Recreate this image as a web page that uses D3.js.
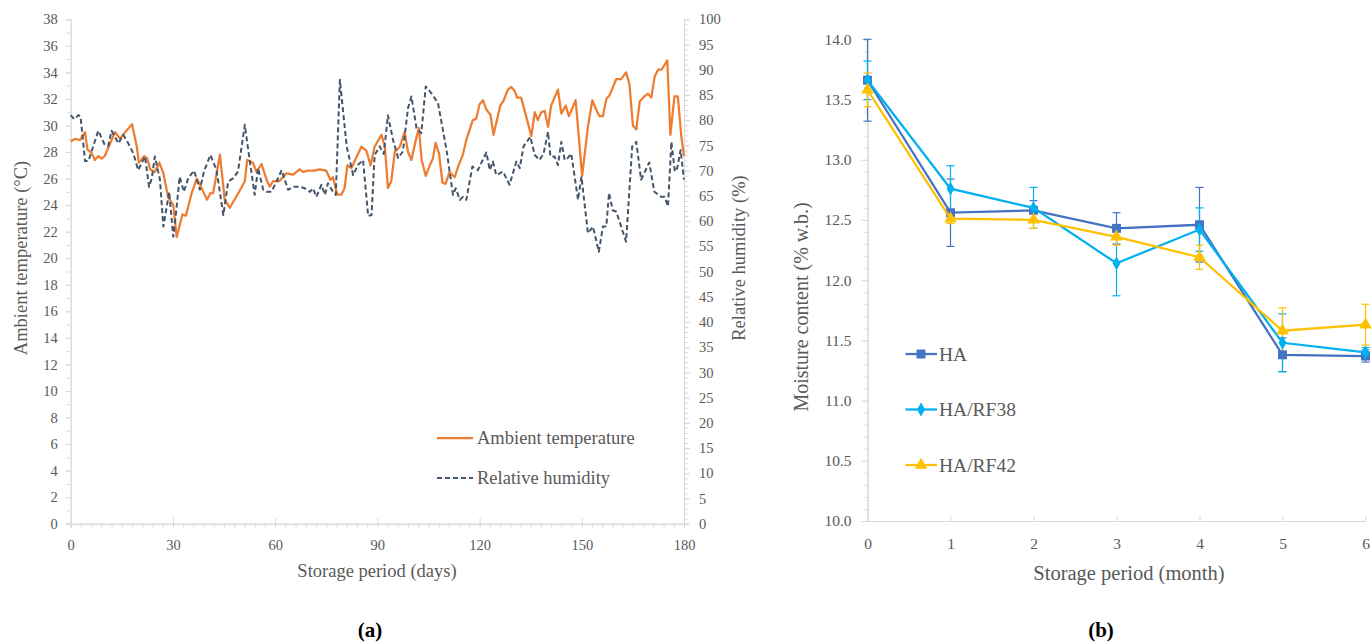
<!DOCTYPE html>
<html>
<head>
<meta charset="utf-8">
<script src="https://cdn.jsdelivr.net/npm/d3@7"></script>
<style>
  body { margin: 0; background: #fff; }
  svg { display: block; font-family: "Liberation Serif", serif; }
  .axis path, .axis line { stroke: #d9d9d9; }
  .axis text { fill: #595959; font-family: "Liberation Serif", serif; }
</style>
</head>
<body>
<svg id="chart" width="1372" height="644"></svg>
<script>
// (a) daily ambient conditions
const tempDays = [0,1.3,2.7,4.2,4.9,6.2,7.1,8.1,9.1,10,13,14.5,16,18,19.4,20,21.6,22.5,23.3,24.7,26,27.2,28.6,30.1,31.1,32.8,33.8,35.5,37,38.4,40,41,41.8,43.8,45.2,46.7,49.2,51.1,51.8,53.5,54.5,56,57.5,58.4,59.4,61.2,63.3,65.3,67.2,68.2,69.7,71.5,73.1,75,76.2,77,78.2,79.5,80.4,81.2,82.4,85.3,86.8,88,89.2,91.2,92.2,93.1,94.1,95.1,96.6,98,99,100,101.3,102.2,103,104.2,105.4,106.3,107.1,108.1,109.1,110,111.2,112.7,113.7,115.1,116.1,118,119,120,121,122,123.2,124.1,126.1,127.1,128.3,129.3,130.3,131,132.2,135.2,136.2,137.1,138.1,139.1,140.1,141,143,144,145.3,146.2,148.2,150.1,151.8,153.1,154.2,155.2,156.2,157.2,158.2,160.1,161.6,163,164,165,166,167,168.4,169.4,170.4,171.4,172.4,173.4,174.4,175.1,176,177.2,178.2,179.2,180];
const tempValues = [28.8,29.0,28.9,29.5,28.2,27.9,27.4,27.7,27.5,27.7,29.5,29.0,29.5,30.1,28.4,27.2,27.7,27.5,26.7,26.5,27.2,26.4,24.6,24.0,21.6,23.3,23.2,24.9,26.0,25.3,24.4,24.9,24.9,27.8,24.4,23.8,24.9,25.8,27.4,27.2,26.5,27.1,25.9,25.4,25.8,25.8,26.4,26.3,26.7,26.5,26.6,26.6,26.7,26.6,25.9,26.1,24.8,24.8,25.3,27.0,26.8,28.4,28.1,27.0,28.4,29.3,28.4,25.3,25.8,28.0,28.4,29.5,28.0,27.4,28.9,29.8,27.4,26.2,27.0,27.5,28.7,27.9,25.7,25.6,26.5,26.1,26.9,27.8,28.9,30.4,30.5,31.6,31.9,31.2,30.8,29.3,31.5,31.9,32.7,32.9,32.6,32.1,32.1,29.2,31.0,30.4,31.0,31.1,29.9,31.5,32.7,30.9,31.5,30.7,31.9,26.2,29.9,31.9,31.2,30.7,30.7,32.0,32.3,33.5,33.5,34.0,33.1,30.0,29.7,31.8,32.2,32.4,32.1,33.7,34.2,34.2,34.6,34.9,29.3,32.2,32.2,29.2,27.7];

const rhDays = [0,1,2.3,2.9,4.2,5.2,6.6,8.1,10,11,12,14,15.4,16.9,18.4,19.8,21.8,23,23.8,24.7,26.2,27.2,28.2,28.9,30.1,30.8,32,33.2,34.5,36.2,37.9,39.1,41,42.8,44.8,46.2,47.7,49.1,51.1,52.1,54,55,56.5,57.5,58.9,60.4,61.9,63.8,65.3,67.2,68.7,70.2,71.1,72.1,73.6,74.6,75.5,77,77.8,79,81,82.9,84.3,85.8,87.3,88.3,89.2,90.7,91.9,93.1,94.6,96.1,97.5,99,100,101.5,102.9,104.2,105.9,107.8,110.3,112.2,113,114.2,115.1,116.1,117.9,119.5,122,123,123.9,124.9,126.9,128.8,130.8,131.8,132.9,134.9,136.2,137.6,138.8,140.1,140.8,142,143,144,145,145.9,146.9,148.9,149.9,151.8,153.3,155,156.2,157.2,158,159.1,160.1,163,164.8,166,167.4,169.8,171.3,173.3,174.3,175.3,176.3,177.3,178,179,180];
const rhValues = [81.0,80.2,81.0,80.7,71.9,71.9,74.8,77.9,75.1,74.9,77.9,75.4,77.1,75.4,73.4,70.1,72.8,66.8,68.5,72.8,68.2,58.9,62.9,65.8,56.9,60.9,68.8,65.8,68.5,70.0,66.2,69.8,73.1,70.1,61.2,67.8,68.5,69.8,79.1,74.1,65.2,70.5,66.2,65.8,65.8,67.8,70.1,66.2,66.8,66.8,66.5,65.8,66.5,64.8,67.2,65.2,67.5,65.8,65.2,88.0,74.8,69.1,71.1,72.1,61.0,61.2,73.1,74.8,73.3,81.0,76.1,72.5,73.8,82.4,84.7,78.4,77.4,86.7,85.3,83.4,74.1,65.2,66.5,64.2,64.8,64.2,70.8,70.1,73.6,70.1,71.8,69.1,69.8,67.2,71.8,70.5,74.8,76.7,73.1,72.1,73.4,77.7,72.8,72.8,71.1,75.7,72.1,72.5,73.4,64.2,68.8,57.6,58.9,53.9,58.9,58.9,65.6,62.1,61.9,55.9,74.8,75.7,68.2,71.6,65.8,64.8,64.8,62.9,75.7,69.8,70.5,74.1,68.2];

// (b) moisture content by month
const months = [0,1,2,3,4,5,6];
const haMean   = [13.66,12.56,12.58,12.43,12.46,11.38,11.37];
const haErr    = [0.34,0.28,0.08,0.13,0.31,0.14,0.05];
const rf38Mean = [13.66,12.76,12.60,12.14,12.42,11.48,11.40];
const rf38Err  = [0.16,0.19,0.17,0.27,0.18,0.24,0.04];
const rf42Mean = [13.58,12.51,12.50,12.36,12.19,11.58,11.63];
const rf42Err  = [0.14,0.04,0.07,0.07,0.10,0.19,0.17];

const svg = d3.select('#chart');

// ---------- chart (a) ----------
const xA = d3.scaleLinear().domain([0, 180]).range([70.7, 684]);
const yT = d3.scaleLinear().domain([0, 38]).range([523.7, 19.3]);
const yH = d3.scaleLinear().domain([0, 100]).range([523.7, 19.3]);

// minor ticks first, then the main axes on top
svg.append('g').attr('class', 'axis')
  .attr('transform', 'translate(70.7,0)')
  .call(d3.axisLeft(yT).tickValues(d3.range(0, 39, 1)).tickSize(4).tickFormat(''));
svg.append('g').attr('class', 'axis')
  .attr('transform', 'translate(684,0)')
  .call(d3.axisRight(yH).tickValues(d3.range(0, 101, 1)).tickSize(4).tickFormat(''));
svg.append('g').attr('class', 'axis')
  .attr('transform', 'translate(0,523.7)')
  .call(d3.axisBottom(xA).tickValues(d3.range(0, 181, 3)).tickSize(4).tickFormat(''));

svg.append('g').attr('class', 'axis')
  .attr('transform', 'translate(70.7,0)')
  .call(d3.axisLeft(yT).tickValues(d3.range(0, 39, 2)).tickSize(5).tickSizeOuter(0).tickPadding(8))
  .selectAll('text').style('font-size', '14.5px');
svg.append('g').attr('class', 'axis')
  .attr('transform', 'translate(684,0)')
  .call(d3.axisRight(yH).tickValues(d3.range(0, 101, 5)).tickSize(6).tickSizeOuter(0).tickPadding(9))
  .selectAll('text').style('font-size', '14.5px');
svg.append('g').attr('class', 'axis')
  .attr('transform', 'translate(0,523.7)')
  .call(d3.axisBottom(xA).tickValues(d3.range(0, 181, 30)).tickSizeInner(-6).tickSizeOuter(0).tickPadding(16))
  .selectAll('text').style('font-size', '14.5px');

svg.append('path')
  .datum(tempDays.map((d, i) => [d, tempValues[i]]))
  .attr('fill', 'none')
  .attr('stroke', '#ed7d31')
  .attr('stroke-width', 2.25)
  .attr('stroke-linejoin', 'round')
  .attr('d', d3.line().x(d => xA(d[0])).y(d => yT(d[1])));

svg.append('path')
  .datum(rhDays.map((d, i) => [d, rhValues[i]]))
  .attr('fill', 'none')
  .attr('stroke', '#44546a')
  .attr('stroke-width', 2)
  .attr('stroke-dasharray', '5,3')
  .attr('stroke-linejoin', 'round')
  .attr('d', d3.line().x(d => xA(d[0])).y(d => yH(d[1])));

svg.append('text')
  .attr('x', 377).attr('y', 571).attr('dy', '0.35em')
  .attr('text-anchor', 'middle').attr('fill', '#595959').style('font-size', '18.5px')
  .text('Storage period (days)');
svg.append('text')
  .attr('transform', 'translate(21,258) rotate(-90)').attr('dy', '0.35em')
  .attr('text-anchor', 'middle').attr('fill', '#595959').style('font-size', '18.5px')
  .text('Ambient temperature (°C)');
svg.append('text')
  .attr('transform', 'translate(739,258) rotate(-90)').attr('dy', '0.35em')
  .attr('text-anchor', 'middle').attr('fill', '#595959').style('font-size', '18.5px')
  .text('Relative humidity (%)');

// legend (a)
const legA = [
  { name: 'Ambient temperature', color: '#ed7d31', dash: null, w: 2.25, y: 438 },
  { name: 'Relative humidity', color: '#44546a', dash: '5,3', w: 2, y: 478 }
];
legA.forEach(l => {
  svg.append('line')
    .attr('x1', 437).attr('x2', 473).attr('y1', l.y).attr('y2', l.y)
    .attr('stroke', l.color).attr('stroke-width', l.w).attr('stroke-dasharray', l.dash);
  svg.append('text')
    .attr('x', 477).attr('y', l.y).attr('dy', '0.35em')
    .attr('fill', '#595959').style('font-size', '18.5px')
    .text(l.name);
});

svg.append('text')
  .attr('x', 370).attr('y', 630).attr('dy', '0.35em')
  .attr('text-anchor', 'middle').attr('font-weight', 'bold').attr('fill', '#000')
  .style('font-size', '21px')
  .text('(a)');

// ---------- chart (b) ----------
const xB = d3.scaleLinear().domain([0, 6]).range([867.5, 1365.5]);
const yB = d3.scaleLinear().domain([10, 14]).range([521, 39.3]);

svg.append('g').attr('class', 'axis')
  .attr('transform', 'translate(867.5,0)')
  .call(d3.axisLeft(yB).tickValues(d3.range(100, 141, 1).map(v => v / 10)).tickSize(3).tickFormat(''));
svg.append('g').attr('class', 'axis')
  .attr('transform', 'translate(867.5,0)')
  .call(d3.axisLeft(yB).tickValues([10, 10.5, 11, 11.5, 12, 12.5, 13, 13.5, 14]).tickSize(6).tickSizeOuter(0)
    .tickPadding(10).tickFormat(d3.format('.1f')))
  .selectAll('text').style('font-size', '15.5px');
svg.append('g').attr('class', 'axis')
  .attr('transform', 'translate(0,521)')
  .call(d3.axisBottom(xB).tickValues(months).tickSizeInner(-5).tickSizeOuter(0).tickPadding(17)
    .tickFormat(d3.format('d')))
  .selectAll('text').style('font-size', '15.5px');
svg.selectAll('.axis path, .axis line').style('stroke', '#d9d9d9');

const seriesB = [
  { name: 'HA', mean: haMean, err: haErr, color: '#4472c4', sym: d3.symbolSquare, size: 80 },
  { name: 'HA/RF38', mean: rf38Mean, err: rf38Err, color: '#00b0f0', sym: d3.symbolDiamond, size: 55 },
  { name: 'HA/RF42', mean: rf42Mean, err: rf42Err, color: '#ffc000', sym: d3.symbolTriangle, size: 70 }
];

seriesB.forEach(s => {
  const g = svg.append('g');
  months.forEach((m, i) => {
    const x = xB(m), y1 = yB(s.mean[i] + s.err[i]), y2 = yB(s.mean[i] - s.err[i]);
    g.append('line').attr('x1', x).attr('x2', x).attr('y1', y1).attr('y2', y2)
      .attr('stroke', s.color).attr('stroke-width', 1.2);
    [y1, y2].forEach(yy => g.append('line')
      .attr('x1', x - 4).attr('x2', x + 4).attr('y1', yy).attr('y2', yy)
      .attr('stroke', s.color).attr('stroke-width', 1.2));
  });
});

seriesB.forEach(s => {
  svg.append('path')
    .datum(months.map((m, i) => [m, s.mean[i]]))
    .attr('fill', 'none').attr('stroke', s.color).attr('stroke-width', 2.25)
    .attr('d', d3.line().x(d => xB(d[0])).y(d => yB(d[1])));
  svg.selectAll(null)
    .data(months.map((m, i) => [m, s.mean[i]]))
    .enter().append('path')
    .attr('transform', d => `translate(${xB(d[0])},${yB(d[1])})`)
    .attr('d', d3.symbol().type(s.sym).size(s.size))
    .attr('fill', s.color);
});

// legend (b)
const legY = [354, 409.5, 465];
seriesB.forEach((s, i) => {
  svg.append('line')
    .attr('x1', 905.5).attr('x2', 937).attr('y1', legY[i]).attr('y2', legY[i])
    .attr('stroke', s.color).attr('stroke-width', 2.25);
  svg.append('path')
    .attr('transform', `translate(921,${legY[i]})`)
    .attr('d', d3.symbol().type(s.sym).size(s.size))
    .attr('fill', s.color);
  svg.append('text')
    .attr('x', 939).attr('y', legY[i]).attr('dy', '0.35em')
    .attr('fill', '#595959').style('font-size', '19.5px')
    .text(s.name);
});

svg.append('text')
  .attr('x', 1129).attr('y', 573).attr('dy', '0.35em')
  .attr('text-anchor', 'middle').attr('fill', '#595959').style('font-size', '20.5px')
  .text('Storage period (month)');
svg.append('text')
  .attr('transform', 'translate(801,307) rotate(-90)').attr('dy', '0.35em')
  .attr('text-anchor', 'middle').attr('fill', '#595959').style('font-size', '20px')
  .text('Moisture content (% w.b.)');

svg.append('text')
  .attr('x', 1101).attr('y', 630).attr('dy', '0.35em')
  .attr('text-anchor', 'middle').attr('font-weight', 'bold').attr('fill', '#000')
  .style('font-size', '21px')
  .text('(b)');
</script>
</body>
</html>
